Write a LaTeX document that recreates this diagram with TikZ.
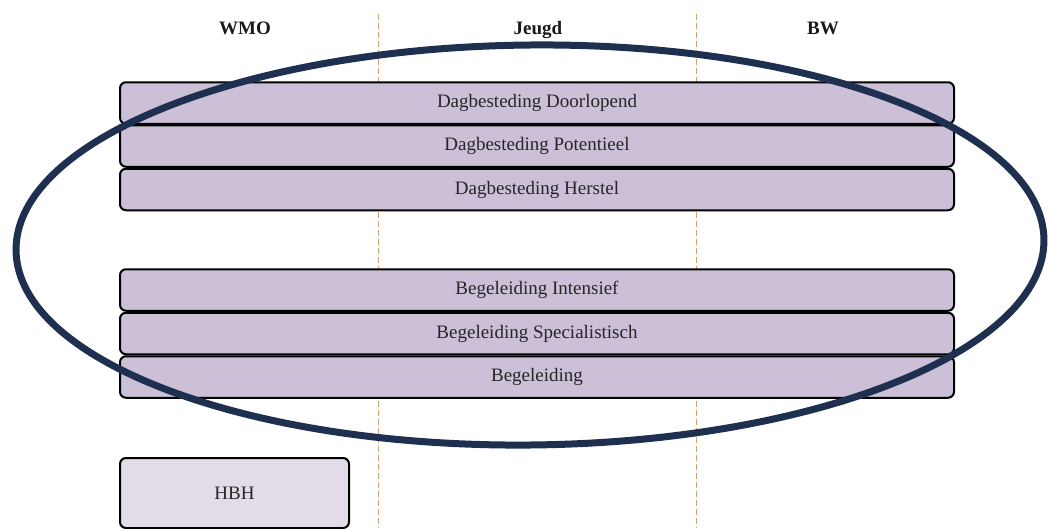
\documentclass[tikz,border=0pt]{standalone}
\usepackage{fontspec}
\setmainfont{Liberation Serif}
\usepackage{xcolor}
\usepackage{tikz}
\usetikzlibrary{shapes,arrows}

\definecolor{lavender}{HTML}{CBC0D8}
\definecolor{palelavender}{HTML}{E2DCE9}
\definecolor{navy}{HTML}{1E2F4F}
\definecolor{sepcolor}{HTML}{D8A06A}

\begin{document}
\begin{tikzpicture}[x=1pt,y=-1pt]
\tikzstyle{column}=[draw=sepcolor, line width=1pt, dash pattern=on 6pt off 3pt]
\tikzstyle{header}=[anchor=base, font=\fontsize{19}{21}\selectfont\bfseries, text=black!90]
\tikzstyle{bar}=[draw=black, line width=2pt, rounded corners=6pt, fill=lavender, minimum width=834pt, minimum height=41.5pt, inner sep=0pt, font=\fontsize{19}{21}\selectfont, text=black!85]
\tikzstyle{single}=[bar, fill=palelavender, minimum width=229pt, minimum height=70pt]
\tikzstyle{group}=[draw=navy, line width=7pt]

\useasboundingbox (0,0) rectangle (1049,528);

% Column separators
\coordinate (sep-left-top) at (378,14);
\coordinate (sep-left-bot) at (378,528);
\coordinate (sep-right-top) at (696,14);
\coordinate (sep-right-bot) at (696,528);
\path[column] (sep-left-top) -- (sep-left-bot);
\path[column] (sep-right-top) -- (sep-right-bot);

\node[header] (wmo) at (245,34) {WMO};
\node[header] (jeugd) at (538,34) {Jeugd};
\node[header] (bw) at (823,34) {BW};

\node[bar] (dag-door) at (537,103) {Dagbesteding Doorlopend};
\node[bar] (dag-pot) at (537,146) {Dagbesteding Potentieel};
\node[bar] (dag-herst) at (537,189.5) {Dagbesteding Herstel};

\node[bar] (beg-int) at (537,290) {Begeleiding Intensief};
\node[bar] (beg-spec) at (537,333.5) {Begeleiding Specialistisch};
\node[bar] (beg) at (537,377) {Begeleiding};

\node[single] (hbh) at (234.5,493) {HBH};

% Ring around the shared products
\path[group, rotate around={0.6:(530,245)}] (530,245) ellipse [x radius=514, y radius=200];
\end{tikzpicture}
\end{document}
